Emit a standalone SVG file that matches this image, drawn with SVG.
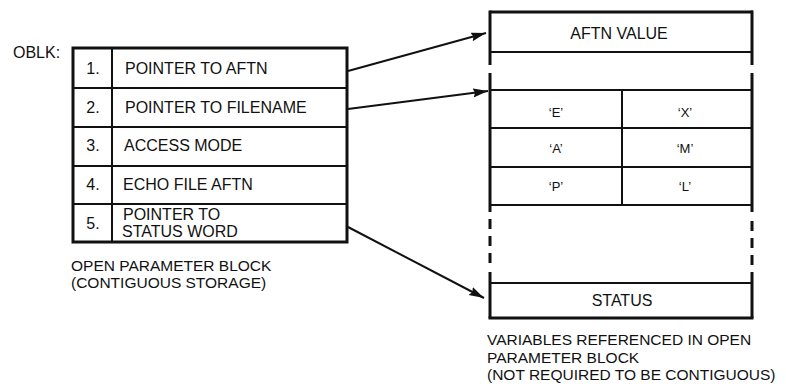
<svg xmlns="http://www.w3.org/2000/svg" width="786" height="384" viewBox="0 0 786 384">
<style>
text{font-family:"Liberation Sans",Arial,sans-serif;font-size:16px;fill:#111}
.c{text-anchor:middle}
.q{font-size:13px}
.cap{font-size:15.5px}
.ob{fill:none;stroke:#111;stroke-width:3}
.in{stroke:#111;stroke-width:2;fill:none}
.con{stroke:#111;stroke-width:2;fill:none;marker-end:url(#ah)}
</style>
<defs>
<marker id="ah" markerUnits="userSpaceOnUse" markerWidth="16" markerHeight="10" refX="15" refY="4.5" orient="auto">
<path d="M0,0 L15,4.5 L0,9 L2,4.5 z" fill="#111"/>
</marker>
</defs>
<rect width="786" height="384" fill="#fff"/>
<text x="13" y="58">OBLK:</text>
<g id="oblk">
<rect class="ob" x="73" y="48" width="274" height="194"/>
<line class="in" x1="112" y1="48" x2="112" y2="242"/>
<line class="in" x1="73" y1="88" x2="347" y2="88"/>
<line class="in" x1="73" y1="127" x2="347" y2="127"/>
<line class="in" x1="73" y1="166" x2="347" y2="166"/>
<line class="in" x1="73" y1="204" x2="347" y2="204"/>
</g>
<g id="row1"><text class="c" x="93" y="74">1.</text><text x="125" y="74">POINTER TO AFTN</text></g>
<g id="row2"><text class="c" x="93" y="113">2.</text><text x="125" y="113">POINTER TO FILENAME</text></g>
<g id="row3"><text class="c" x="93" y="151">3.</text><text x="124" y="151">ACCESS MODE</text></g>
<g id="row4"><text class="c" x="93" y="190">4.</text><text x="123" y="190">ECHO FILE AFTN</text></g>
<g id="row5"><text class="c" x="93" y="229">5.</text><text x="123" y="220">POINTER TO</text><text x="122" y="237">STATUS WORD</text></g>
<g id="oblk-caption"><text class="cap" x="71" y="271">OPEN PARAMETER BLOCK</text><text class="cap" x="71" y="288">(CONTIGUOUS STORAGE)</text></g>

<g id="aftn-value">
<line class="ob" x1="490" y1="12" x2="753" y2="12"/>
<line class="ob" x1="490" y1="10.5" x2="490" y2="65"/>
<line class="ob" x1="752" y1="10.5" x2="752" y2="65"/>
<line class="in" x1="490" y1="52" x2="752" y2="52"/>
<text class="c" x="619" y="39">AFTN VALUE</text>
</g>
<g id="filename">
<line class="ob" x1="490" y1="73" x2="490" y2="212"/>
<line class="ob" x1="752" y1="73" x2="752" y2="212"/>
<line class="in" x1="490" y1="90" x2="752" y2="90"/>
<line class="in" x1="490" y1="128" x2="752" y2="128"/>
<line class="in" x1="490" y1="167" x2="752" y2="167"/>
<line class="in" x1="490" y1="205" x2="752" y2="205"/>
<line class="in" x1="622" y1="90" x2="622" y2="205"/>
<text class="c q" x="556" y="117">‘E’</text>
<text class="c q" x="685" y="117">‘X’</text>
<text class="c q" x="556" y="153">‘A’</text>
<text class="c q" x="685" y="153">‘M’</text>
<text class="c q" x="556" y="191">‘P’</text>
<text class="c q" x="685" y="191">‘L’</text>
</g>
<g id="gap">
<line class="ob" x1="490" y1="219" x2="490" y2="266" stroke-dasharray="10 7"/>
<line class="ob" x1="752" y1="221" x2="752" y2="266" stroke-dasharray="10 7"/>
</g>
<g id="status">
<line class="ob" x1="490" y1="272" x2="490" y2="318"/>
<line class="ob" x1="752" y1="272" x2="752" y2="318"/>
<line class="in" x1="490" y1="283" x2="752" y2="283"/>
<line class="ob" x1="488.5" y1="318" x2="753.5" y2="318"/>
<text class="c" x="622" y="306">STATUS</text>
</g>
<g id="vars-caption"><text class="cap" x="487" y="345">VARIABLES REFERENCED IN OPEN</text><text class="cap" x="487" y="363">PARAMETER BLOCK</text><text class="cap" x="487" y="380">(NOT REQUIRED TO BE CONTIGUOUS)</text></g>

<g id="connectors">
<line class="con" x1="348" y1="71" x2="486" y2="33"/>
<line class="con" x1="348" y1="109" x2="488" y2="91"/>
<line class="con" x1="348" y1="227" x2="484" y2="298"/>
</g>
</svg>
